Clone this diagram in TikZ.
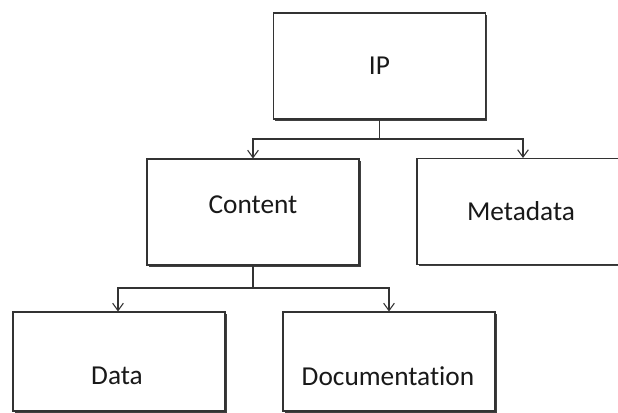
\documentclass[tikz,border=0pt]{standalone}
\usepackage{fontspec}
\setmainfont{Carlito}[Ligatures={NoCommon,NoRare,NoContextual}]
\usetikzlibrary{arrows.meta,shadows}
\begin{document}
\begin{tikzpicture}[x=0.75pt,y=-0.75pt,
  box/.style={draw=black!80, line width=0.8pt, fill=white, inner sep=0pt,
    minimum width=159pt, minimum height=79.5pt,
    drop shadow={shadow xshift=1.2pt, shadow yshift=-1.2pt, fill=black!75, opacity=1}},
  lowbox/.style={box, minimum height=74.25pt},
  lbl/.style={font=\fontsize{20.5}{24}\selectfont, text=black!90, inner sep=0pt},
  arr/.style={draw=black!80, line width=0.8pt, -{Straight Barb[length=5.5pt,width=8pt,line width=0.8pt]}}]
\useasboundingbox (0,0) rectangle (618,412);
\clip (0,0) rectangle (618,412);
\fill[white] (0,0) rectangle (618,412);
% boxes
\node[box] (ip) at (379.5,66) {};
\node[box] (content) at (253,212) {};
\node[box] (meta) at (523,211.5) {};
\node[lowbox] (data) at (119,361.5) {};
\node[lowbox] (doc) at (389,361.5) {};
% labels
\node[lbl] (ipl) at (379.5,66) {IP};
\node[lbl] (contentl) at (253,205) {Content};
\node[lbl] (metal) at (521,211.5) {Metadata};
\node[lbl] (datal) at (117,376) {Data};
\node[lbl] (docl) at (388,376) {Documentation};
% junctions
\coordinate (j1) at (379.5,139);
\coordinate (j2) at (253,288);
% connectors
\draw[arr] (ip.south) -- (j1) -| (content.north);
\draw[arr] (j1) -| (meta.north);
\draw[arr] (content.south) -- (j2) -| ([xshift=-0.75pt]data.north);
\draw[arr] (j2) -| (doc.north);
\end{tikzpicture}
\end{document}
